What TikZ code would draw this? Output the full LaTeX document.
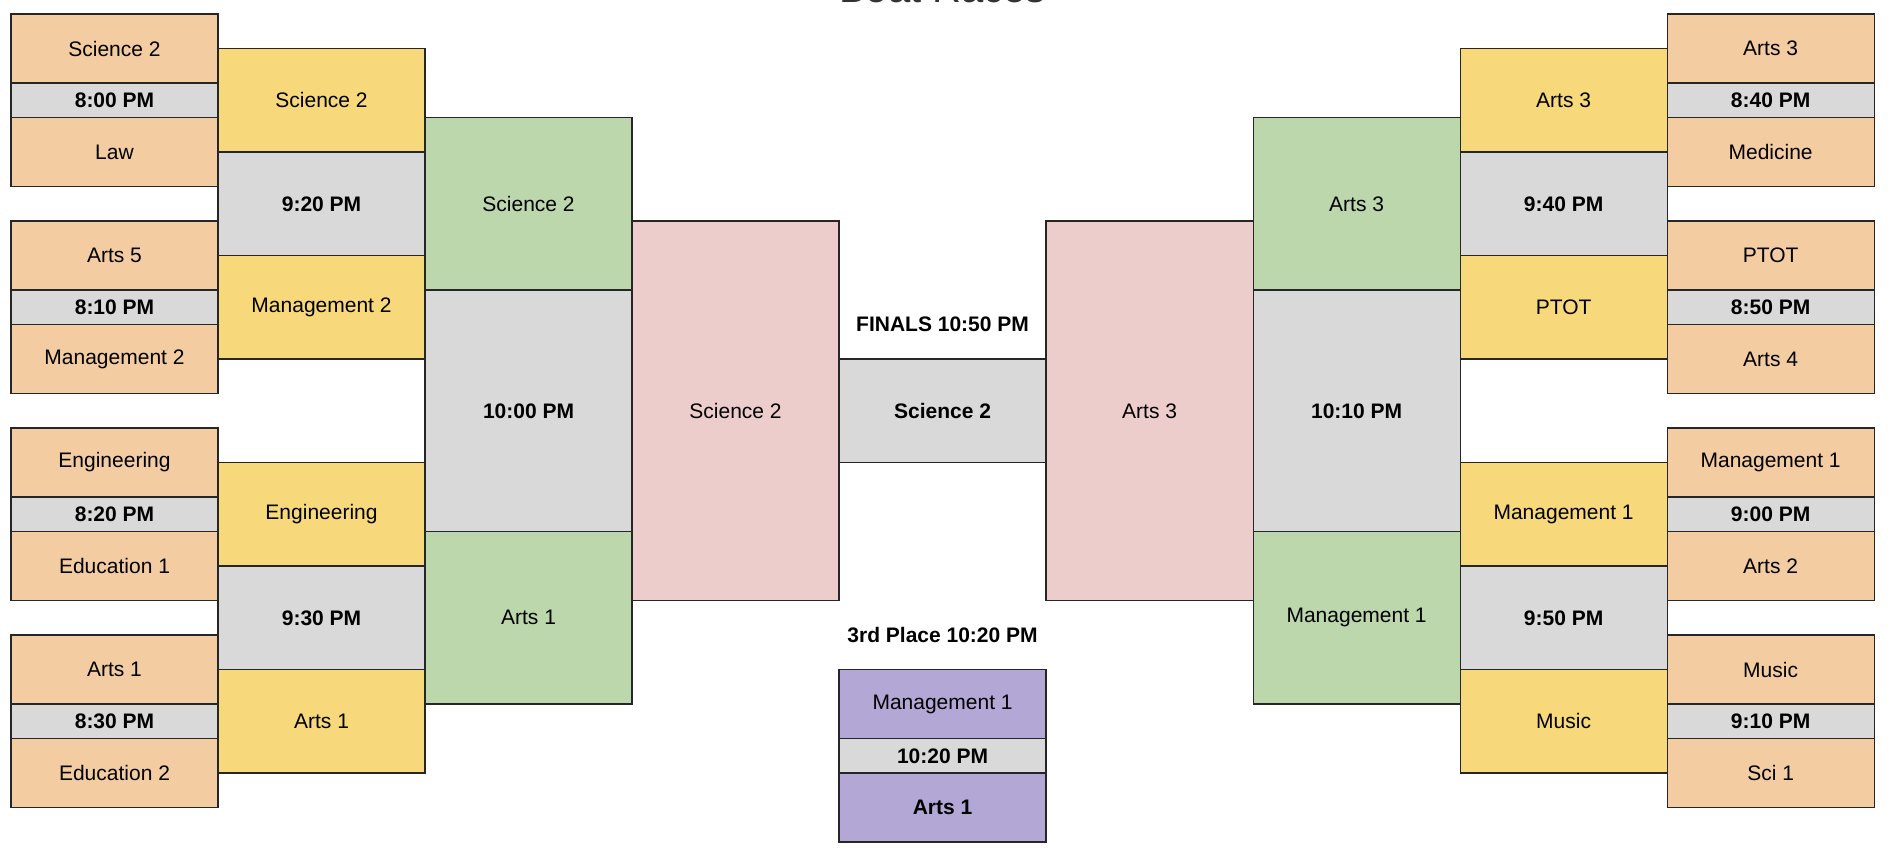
\documentclass[tikz,border=0pt]{standalone}
\usepackage{fontspec}
\setmainfont{Liberation Sans}
\usepackage{tikz}

\definecolor{teamorange}{HTML}{F3CCA2}
\definecolor{teamyellow}{HTML}{F7D97B}
\definecolor{teamgreen}{HTML}{BBD7AB}
\definecolor{teampink}{HTML}{EDCDCC}
\definecolor{teampurple}{HTML}{B3A7D5}
\definecolor{slotgray}{HTML}{D9D9D9}

\begin{document}
\begin{tikzpicture}[x=17.25pt, y=-17.25pt,
  team/.style={draw=black!85, line width=0.6pt, inner sep=0pt, outer sep=0pt,
    minimum width=103.5pt, font=\fontsize{10.5}{12}\selectfont},
  slot/.style={team, fill=slotgray, font=\fontsize{10.5}{12}\selectfont\bfseries},
  h1/.style={minimum height=17.25pt},
  h2/.style={minimum height=34.5pt},
  h3/.style={minimum height=51.75pt},
  h5/.style={minimum height=86.25pt},
  h7/.style={minimum height=120.75pt},
  h11/.style={minimum height=189.75pt},
  heading/.style={font=\fontsize{10.5}{12}\selectfont\bfseries}]
  \useasboundingbox (-0.319,-0.406) rectangle (54.46,24.41);

  % Title (cut off at the top edge)
  \node[anchor=base, text=black!80, font=\fontsize{20}{24}\selectfont] (title) at (27,-0.32) {Boat Races};

  % First round, left side
  \foreach \n/\t/\a/\s/\b in {1/0/Science 2/8:00 PM/Law, 2/6/Arts 5/8:10 PM/Management 2,
      3/12/Engineering/8:20 PM/Education 1, 4/18/Arts 1/8:30 PM/Education 2} {
    \node[team, h2, fill=teamorange] (L\n-a) at (3,\t+1) {\a};
    \node[slot, h1] (L\n-s) at (3,\t+2.5) {\s};
    \node[team, h2, fill=teamorange] (L\n-b) at (3,\t+4) {\b};
  }

  % First round, right side
  \foreach \n/\t/\a/\s/\b in {1/0/Arts 3/8:40 PM/Medicine, 2/6/PTOT/8:50 PM/Arts 4,
      3/12/Management 1/9:00 PM/Arts 2, 4/18/Music/9:10 PM/Sci 1} {
    \node[team, h2, fill=teamorange] (R\n-a) at (51,\t+1) {\a};
    \node[slot, h1] (R\n-s) at (51,\t+2.5) {\s};
    \node[team, h2, fill=teamorange] (R\n-b) at (51,\t+4) {\b};
  }

  % Quarter finals
  \node[team, h3, fill=teamyellow] (LQ1-a) at (9,2.5) {Science 2};
  \node[slot, h3] (LQ1-s) at (9,5.5) {9:20 PM};
  \node[team, h3, fill=teamyellow] (LQ1-b) at (9,8.5) {Management 2};
  \node[team, h3, fill=teamyellow] (LQ2-a) at (9,14.5) {Engineering};
  \node[slot, h3] (LQ2-s) at (9,17.5) {9:30 PM};
  \node[team, h3, fill=teamyellow] (LQ2-b) at (9,20.5) {Arts 1};

  \node[team, h3, fill=teamyellow] (RQ1-a) at (45,2.5) {Arts 3};
  \node[slot, h3] (RQ1-s) at (45,5.5) {9:40 PM};
  \node[team, h3, fill=teamyellow] (RQ1-b) at (45,8.5) {PTOT};
  \node[team, h3, fill=teamyellow] (RQ2-a) at (45,14.5) {Management 1};
  \node[slot, h3] (RQ2-s) at (45,17.5) {9:50 PM};
  \node[team, h3, fill=teamyellow] (RQ2-b) at (45,20.5) {Music};

  % Semi finals
  \node[team, h5, fill=teamgreen] (LS-a) at (15,5.5) {Science 2};
  \node[slot, h7] (LS-s) at (15,11.5) {10:00 PM};
  \node[team, h5, fill=teamgreen] (LS-b) at (15,17.5) {Arts 1};

  \node[team, h5, fill=teamgreen] (RS-a) at (39,5.5) {Arts 3};
  \node[slot, h7] (RS-s) at (39,11.5) {10:10 PM};
  \node[team, h5, fill=teamgreen] (RS-b) at (39,17.5) {Management 1};

  % Finalists
  \node[team, h11, fill=teampink] (LF) at (21,11.5) {Science 2};
  \node[team, h11, fill=teampink] (RF) at (33,11.5) {Arts 3};

  % Final
  \node[heading] (final-title) at (27,9) {FINALS 10:50 PM};
  \node[slot, h3] (winner) at (27,11.5) {Science 2};

  % Third place
  \node[heading] (third-title) at (27,18) {3rd Place 10:20 PM};
  \node[team, h2, fill=teampurple] (third-a) at (27,20) {Management 1};
  \node[slot, h1] (third-s) at (27,21.5) {10:20 PM};
  \node[team, h2, fill=teampurple, font=\fontsize{10.5}{12}\selectfont\bfseries] (third-b) at (27,23) {Arts 1};
\end{tikzpicture}
\end{document}
